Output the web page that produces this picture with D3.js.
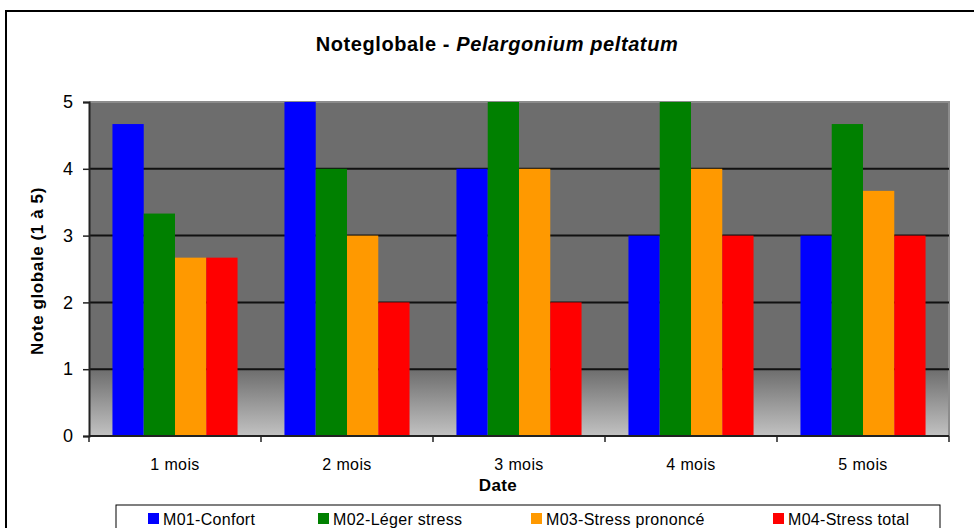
<!DOCTYPE html>
<html>
<head>
<meta charset="utf-8">
<script src="https://cdn.jsdelivr.net/npm/d3@7"></script>
<style>
  html, body { margin: 0; padding: 0; background: #fff; }
  svg { display: block; font-family: "Liberation Sans", Arial, sans-serif; }
</style>
</head>
<body>
<svg id="chart" width="974" height="528"></svg>
<script>
// Monthly overall score per treatment
const categories = ["1 mois", "2 mois", "3 mois", "4 mois", "5 mois"];
const seriesNames = ["M01-Confort", "M02-Léger stress", "M03-Stress prononcé", "M04-Stress total"];
const seriesColors = ["#0000ff", "#008000", "#ff9900", "#ff0000"];
const confort = [4.67, 5, 4, 3, 3];
const legerStress = [3.33, 4, 5, 5, 4.67];
const stressPrononce = [2.67, 3, 4, 4, 3.67];
const stressTotal = [2.67, 2, 2, 3, 3];
const yTicks = [0, 1, 2, 3, 4, 5];

const seriesValues = [confort, legerStress, stressPrononce, stressTotal];

const svg = d3.select("#chart");
const plot = { left: 89, right: 949, top: 102, bottom: 436 };

// Outer frame
svg.append("rect")
  .attr("x", 6).attr("y", 11)
  .attr("width", 1000).attr("height", 560)
  .attr("fill", "#fff").attr("stroke", "#000").attr("stroke-width", 2);

const x0 = d3.scaleBand().domain(categories).range([plot.left, plot.right]).padding(0);
const W = x0.bandwidth();
const gapHalf = W * 0.75 / 5.5;
const x1 = d3.scaleBand().domain(d3.range(seriesNames.length)).range([gapHalf, W - gapHalf]).padding(0);
const y = d3.scaleLinear().domain([0, 5]).range([plot.bottom, plot.top]);

// Plot background: flat dark grey fading to light grey near the baseline
const defs = svg.append("defs");
const grad = defs.append("linearGradient")
  .attr("id", "bgGrad").attr("gradientUnits", "userSpaceOnUse")
  .attr("x1", 0).attr("x2", 0).attr("y1", y(1)).attr("y2", y(0));
grad.append("stop").attr("offset", "0%").attr("stop-color", "#6d6d6d");
grad.append("stop").attr("offset", "100%").attr("stop-color", "#c2c2c2");

svg.append("rect")
  .attr("x", plot.left).attr("y", plot.top)
  .attr("width", plot.right - plot.left).attr("height", y(1) - plot.top)
  .attr("fill", "#6d6d6d");
svg.append("rect")
  .attr("x", plot.left).attr("y", y(1))
  .attr("width", plot.right - plot.left).attr("height", y(0) - y(1))
  .attr("fill", "url(#bgGrad)");

// Plot border (top and right)
svg.append("path")
  .attr("d", `M${plot.left},${plot.top}H${plot.right}V${plot.bottom}`)
  .attr("fill", "none").attr("stroke", "#8c8c8c").attr("stroke-width", 2);

// Horizontal gridlines
svg.append("g").selectAll("line")
  .data(yTicks.filter(t => t > 0 && t < 5))
  .join("line")
  .attr("x1", plot.left).attr("x2", plot.right)
  .attr("y1", d => y(d)).attr("y2", d => y(d))
  .attr("stroke", "#111").attr("stroke-width", 2);

// Bars
const groups = svg.append("g").selectAll("g")
  .data(categories)
  .join("g")
  .attr("transform", d => `translate(${x0(d)},0)`);

groups.selectAll("rect")
  .data((c, ci) => seriesValues.map((vals, si) => ({ si, v: vals[ci] })))
  .join("rect")
  .attr("x", d => x1(d.si))
  .attr("width", x1.bandwidth())
  .attr("y", d => y(d.v))
  .attr("height", d => y(0) - y(d.v))
  .attr("fill", d => seriesColors[d.si]);

// Y axis
const yAxis = svg.append("g")
  .attr("transform", `translate(${plot.left},0)`)
  .call(d3.axisLeft(y).tickValues(yTicks).tickFormat(d3.format("d")).tickSize(6).tickPadding(10));
yAxis.select(".domain").attr("stroke", "#222").attr("stroke-width", 2);
yAxis.selectAll(".tick line").attr("stroke", "#222").attr("stroke-width", 1.5);
yAxis.selectAll(".tick text")
  .attr("font-size", 18).attr("fill", "#000")
  .attr("font-family", "'Liberation Sans', Arial, sans-serif");

// X axis with ticks at category boundaries
const boundaries = categories.map(c => x0(c)).concat([plot.right]);
const xAxisG = svg.append("g");
xAxisG.append("line")
  .attr("x1", plot.left).attr("x2", plot.right)
  .attr("y1", plot.bottom).attr("y2", plot.bottom)
  .attr("stroke", "#222").attr("stroke-width", 2);
xAxisG.selectAll("line.tk")
  .data(boundaries)
  .join("line").attr("class", "tk")
  .attr("x1", d => d).attr("x2", d => d)
  .attr("y1", plot.bottom).attr("y2", plot.bottom + 6)
  .attr("stroke", "#222").attr("stroke-width", 1.5);
xAxisG.selectAll("text")
  .data(categories)
  .join("text")
  .attr("x", d => x0(d) + W / 2)
  .attr("y", 470)
  .attr("text-anchor", "middle")
  .attr("font-size", 16).attr("letter-spacing", 0.4)
  .text(d => d);

// Title
const title = svg.append("text")
  .attr("x", 497).attr("y", 51)
  .attr("text-anchor", "middle")
  .attr("font-size", 20).attr("font-weight", "bold").attr("letter-spacing", 0.6);
title.append("tspan").text("Noteglobale - ");
title.append("tspan").attr("font-style", "italic").text("Pelargonium peltatum");

// Axis titles
svg.append("text")
  .attr("x", 498).attr("y", 491)
  .attr("text-anchor", "middle")
  .attr("font-size", 17).attr("font-weight", "bold").attr("letter-spacing", 0.4)
  .text("Date");

svg.append("text")
  .attr("transform", `translate(43,${(plot.top + plot.bottom) / 2 + 2}) rotate(-90)`)
  .attr("text-anchor", "middle")
  .attr("font-size", 17).attr("font-weight", "bold").attr("letter-spacing", 0.6)
  .text("Note globale (1 à 5)");

// Legend
svg.append("rect")
  .attr("x", 116).attr("y", 505)
  .attr("width", 824).attr("height", 40)
  .attr("fill", "#fff").attr("stroke", "#000").attr("stroke-width", 1);

const legendX = [148, 318, 531, 773];
const legend = svg.append("g").selectAll("g")
  .data(seriesNames)
  .join("g")
  .attr("transform", (d, i) => `translate(${legendX[i]},513)`);
legend.append("rect")
  .attr("width", 11).attr("height", 11)
  .attr("fill", (d, i) => seriesColors[i]);
legend.append("text")
  .attr("x", 15).attr("y", 12)
  .attr("font-size", 16).attr("letter-spacing", 0.3)
  .text(d => d);
</script>
</body>
</html>
